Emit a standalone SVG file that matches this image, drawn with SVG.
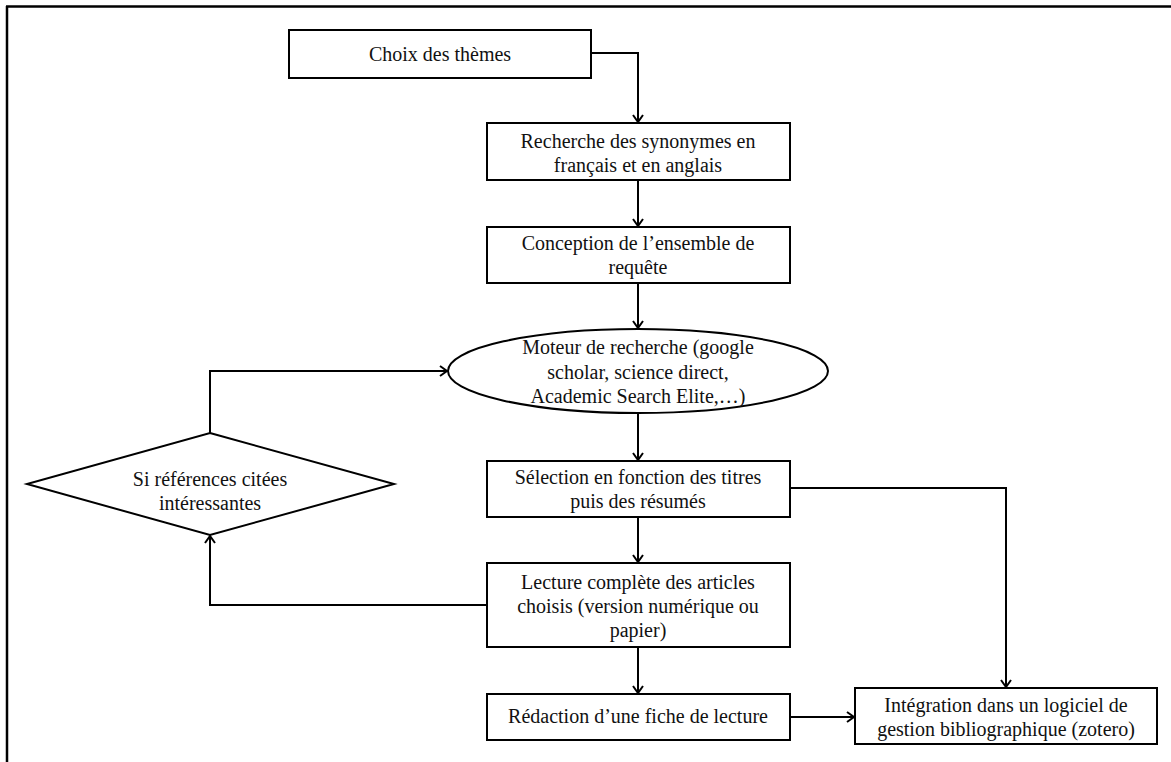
<svg xmlns="http://www.w3.org/2000/svg" width="1171" height="762" viewBox="0 0 1171 762">
  <defs>
    <marker id="arr" markerUnits="userSpaceOnUse" markerWidth="12" markerHeight="14" refX="8" refY="6" orient="auto" overflow="visible">
      <path d="M1,1 L8,6 L1,11" fill="none" stroke="#000" stroke-width="2"/>
    </marker>
    <style>
      .shape { fill: #fff; stroke: #000; stroke-width: 2; }
      .conn { fill: none; stroke: #000; stroke-width: 2; }
      .t { font-family: "Liberation Serif", "Times New Roman", serif; font-size: 20px; fill: #111; text-anchor: middle; }
    </style>
  </defs>
  <rect x="0" y="0" width="1171" height="762" fill="#fff"/>
  <g id="frame">
    <path d="M6,6.5 H1171 M7,6 V762" fill="none" stroke="#000" stroke-width="2.5"/>
  </g>
  <g id="connectors">
    <path class="conn" d="M591,53 H638 V122" marker-end="url(#arr)"/>
    <path class="conn" d="M638,180 V226" marker-end="url(#arr)"/>
    <path class="conn" d="M638,283 V328" marker-end="url(#arr)"/>
    <path class="conn" d="M638,413 V460" marker-end="url(#arr)"/>
    <path class="conn" d="M638,517 V562" marker-end="url(#arr)"/>
    <path class="conn" d="M638,647 V693" marker-end="url(#arr)"/>
    <path class="conn" d="M790,717 H854" marker-end="url(#arr)"/>
    <path class="conn" d="M790,488 H1006 V687" marker-end="url(#arr)"/>
    <path class="conn" d="M487,605 H210 V536" marker-end="url(#arr)"/>
    <path class="conn" d="M210,433 V371 H447" marker-end="url(#arr)"/>
  </g>
  <g id="n1">
    <rect class="shape" x="289" y="30" width="302" height="48"/>
    <text class="t" x="440" y="61">Choix des thèmes</text>
  </g>
  <g id="n2">
    <rect class="shape" x="487" y="123" width="303" height="57"/>
    <text class="t" x="638" y="148">Recherche des synonymes en</text>
    <text class="t" x="638" y="172">français et en anglais</text>
  </g>
  <g id="n3">
    <rect class="shape" x="487" y="227" width="303" height="56"/>
    <text class="t" x="638" y="250">Conception de l’ensemble  de</text>
    <text class="t" x="638" y="274">requête</text>
  </g>
  <g id="n4">
    <ellipse class="shape" cx="638" cy="371" rx="190" ry="42"/>
    <text class="t" x="638" y="354">Moteur de recherche  (google</text>
    <text class="t" x="638" y="379">scholar, science  direct,</text>
    <text class="t" x="638" y="403">Academic Search  Elite,…)</text>
  </g>
  <g id="n5">
    <rect class="shape" x="487" y="461" width="303" height="56"/>
    <text class="t" x="638" y="484">Sélection en fonction des titres</text>
    <text class="t" x="638" y="508">puis des résumés</text>
  </g>
  <g id="n6">
    <polygon class="shape" points="210,433 394,484 210,535 27,484"/>
    <text class="t" x="210" y="486">Si références citées</text>
    <text class="t" x="210" y="510">intéressantes</text>
  </g>
  <g id="n7">
    <rect class="shape" x="487" y="563" width="303" height="84"/>
    <text class="t" x="638" y="589">Lecture complète  des articles</text>
    <text class="t" x="638" y="613">choisis (version  numérique  ou</text>
    <text class="t" x="638" y="637">papier)</text>
  </g>
  <g id="n8">
    <rect class="shape" x="487" y="694" width="303" height="46"/>
    <text class="t" x="638" y="723">Rédaction d’une fiche de lecture</text>
  </g>
  <g id="n9">
    <rect class="shape" x="855" y="688" width="302" height="56"/>
    <text class="t" x="1006" y="712">Intégration dans un logiciel  de</text>
    <text class="t" x="1006" y="736">gestion bibliographique  (zotero)</text>
  </g>
</svg>
